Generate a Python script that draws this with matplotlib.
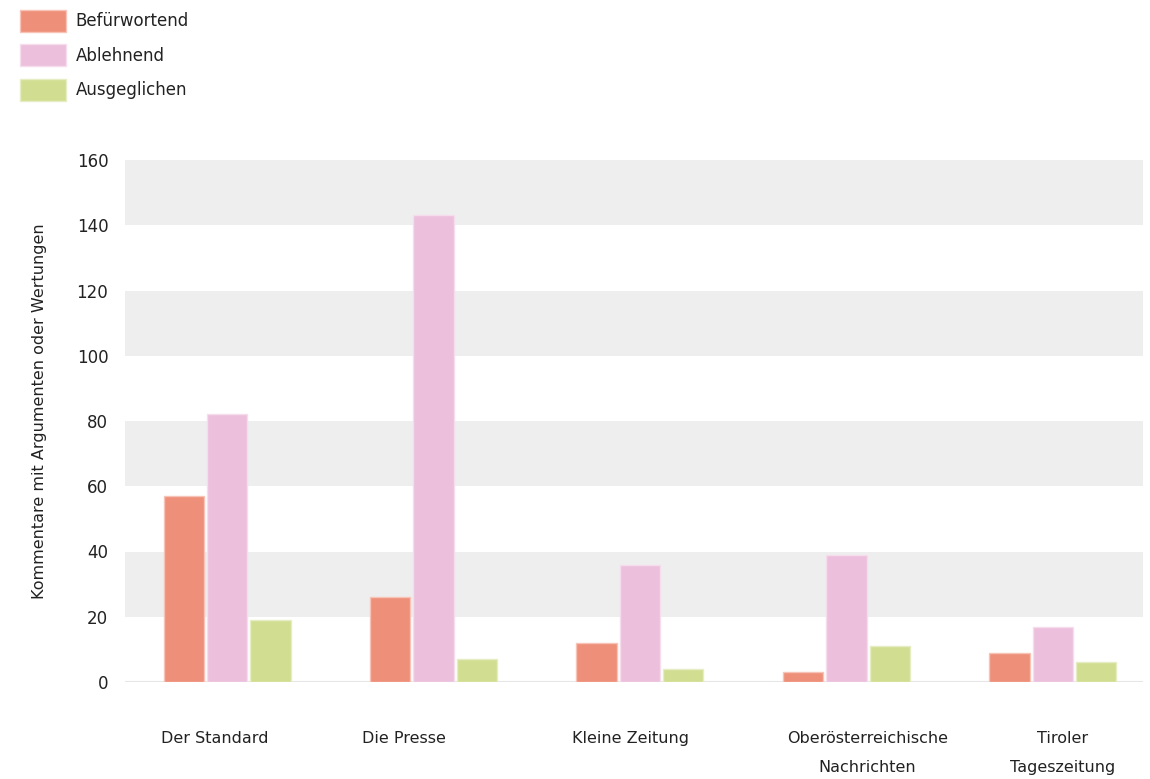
import matplotlib
matplotlib.use("Agg")
import matplotlib.pyplot as plt
import matplotlib.transforms as mtransforms
import numpy as np
from matplotlib.patches import Patch

categories = ["Der Standard", "Die Presse", "Kleine Zeitung",
              "Oberösterreichische\nNachrichten", "Tiroler\nTageszeitung"]
series_names = ["Befürwortend", "Ablehnend", "Ausgeglichen"]
befuerwortend = [57, 26, 12, 3, 9]
ablehnend = [82, 143, 36, 39, 17]
ausgeglichen = [19, 7, 4, 11, 6]
yticks = [0, 20, 40, 60, 80, 100, 120, 140, 160]
ylabel = "Kommentare mit Argumenten oder Wertungen"

colors = ["#EE8F7A", "#ECC0DC", "#D1DD91"]
edges = ["#F6C3B6", "#F5DDEC", "#E6EDC4"]
# horizontal nudges of the category labels (pixels), as in the reference layout
label_nudge_px = [-12, -30, -9, 21, 10]

plt.rcParams['font.family'] = ['DejaVu Sans']
text_color = "#222222"

fig = plt.figure(figsize=(11.5, 7.79), dpi=100)
ax = fig.add_axes([125/1150, 1-682/779, (1143-125)/1150, (682-160)/779])

x = np.arange(len(categories))
width = 0.195
stride = 0.21
data = [befuerwortend, ablehnend, ausgeglichen]
for i, (vals, c, e) in enumerate(zip(data, colors, edges)):
    ax.bar(x + (i - 1) * stride, vals, width=width, color=c, edgecolor=e,
           linewidth=1.0, zorder=3)

# alternating grey bands
for lo in range(20, 160, 40):
    ax.axhspan(lo, lo + 20, color="#EEEEEE", zorder=0, lw=0)
ax.axhline(0, color="#E6E6E6", lw=1.5, zorder=1)

ax.set_xlim(-0.494, 4.436)
ax.set_ylim(0, 160)
ax.set_yticks(yticks)
ax.set_yticklabels([str(v) for v in yticks])
ax.set_xticks(x)
ax.set_xticklabels(categories, linespacing=2.2)
ax.tick_params(axis='y', length=0, pad=12, labelsize=12, labelcolor=text_color)
ax.tick_params(axis='x', length=0, pad=35, labelsize=11.5, labelcolor=text_color)
for s in ax.spines.values():
    s.set_visible(False)
for lbl, dx in zip(ax.get_xticklabels(), label_nudge_px):
    lbl.set_transform(lbl.get_transform() +
                      mtransforms.ScaledTranslation(dx / 100, 0, fig.dpi_scale_trans))

ax.set_ylabel(ylabel, fontsize=11.5, color=text_color)
ax.yaxis.set_label_coords(-0.0766, 0.518)

handles = [Patch(facecolor=c, edgecolor=e, linewidth=1.0) for c, e in zip(colors, edges)]
fig.legend(handles, series_names, loc='upper left', bbox_to_anchor=(20/1150, 1-10/779),
           frameon=False, fontsize=12, handlelength=2.75, handleheight=1.65,
           labelspacing=0.75, handletextpad=0.6, labelcolor=text_color,
           borderaxespad=0, borderpad=0)

fig.savefig("out.png", dpi=100)
